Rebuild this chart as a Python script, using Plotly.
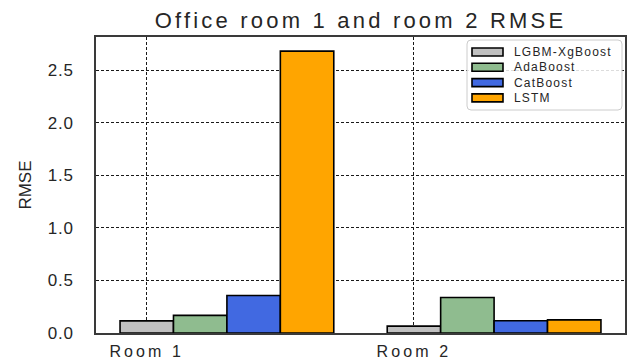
import plotly.graph_objects as go

# RMSE per model for the two office rooms
rooms = ["Room 1", "Room 2"]
models = ["LGBM-XgBoost", "AdaBoost", "CatBoost", "LSTM"]
rmse_lgbm_xgb = [0.115, 0.065]
rmse_adaboost = [0.168, 0.338]
rmse_catboost = [0.356, 0.116]
rmse_lstm = [2.68, 0.125]
colors = ["#c0c0c0", "#8fbc8f", "#4169e1", "#ffa500"]

series = [rmse_lgbm_xgb, rmse_adaboost, rmse_catboost, rmse_lstm]
room_pos = list(range(len(rooms)))
bar_w = 0.2
text_col = "#262626"
font_family = "Liberation Sans, Arial, sans-serif"

fig = go.Figure()
for i, (name, vals, col) in enumerate(zip(models, series, colors)):
    fig.add_trace(go.Bar(
        x=[p + i * bar_w for p in room_pos],
        y=vals,
        width=bar_w,
        name=name,
        marker=dict(color=col, line=dict(color="black", width=1.6)),
        showlegend=False,
    ))

# plot-area edges in pixels, used to place the hand-drawn legend
L, R, T, B = 96, 625, 37, 333


def px_x(px):
    return (px - L) / (R - L)


def px_y(py):
    return (B - py) / (B - T)


shapes = []
annotations = []

# legend frame with rounded corners
bx0, bx1, by0, by1, rad = 467, 622, 40, 110, 4
path = (
    f"M {px_x(bx0 + rad)},{px_y(by0)} L {px_x(bx1 - rad)},{px_y(by0)} "
    f"Q {px_x(bx1)},{px_y(by0)} {px_x(bx1)},{px_y(by0 + rad)} "
    f"L {px_x(bx1)},{px_y(by1 - rad)} "
    f"Q {px_x(bx1)},{px_y(by1)} {px_x(bx1 - rad)},{px_y(by1)} "
    f"L {px_x(bx0 + rad)},{px_y(by1)} "
    f"Q {px_x(bx0)},{px_y(by1)} {px_x(bx0)},{px_y(by1 - rad)} "
    f"L {px_x(bx0)},{px_y(by0 + rad)} "
    f"Q {px_x(bx0)},{px_y(by0)} {px_x(bx0 + rad)},{px_y(by0)} Z"
)
shapes.append(dict(type="path", xref="paper", yref="paper", path=path,
                   fillcolor="rgba(255,255,255,0.85)",
                   line=dict(color="#cccccc", width=1), layer="above"))

row0, row_step = 52, 15.3
for i, (name, col) in enumerate(zip(models, colors)):
    cy = row0 + i * row_step
    shapes.append(dict(type="rect", xref="paper", yref="paper",
                       x0=px_x(472), x1=px_x(503),
                       y0=px_y(cy - 4), y1=px_y(cy + 4),
                       fillcolor=col, line=dict(color="black", width=1.6),
                       layer="above"))
    annotations.append(dict(xref="paper", yref="paper", x=px_x(512), y=px_y(cy),
                            xanchor="left", yanchor="middle", align="left",
                            text=name, showarrow=False,
                            font=dict(size=12, color=text_col, family=font_family)))

axis_common = dict(
    showline=True, mirror=True, linecolor="#3a3a3a", linewidth=1.5,
    showgrid=True, gridcolor="#1a1a1a", gridwidth=0.8, griddash="3px,2px",
    zeroline=False, ticks="", automargin=False,
)

fig.update_layout(
    width=631, height=362,
    margin=dict(l=L, r=631 - R, t=T, b=362 - B),
    paper_bgcolor="white", plot_bgcolor="white",
    font=dict(family=font_family, color=text_col),
    title=dict(text="Office room 1 and room 2 RMSE", x=0.5, xref="paper",
               xanchor="center", y=1 - 20 / 362, yanchor="middle",
               font=dict(size=22, color=text_col)),
    barmode="overlay",
    xaxis=dict(range=[-0.19, 1.79], tickmode="array", tickvals=room_pos,
               ticktext=rooms, tickfont=dict(size=16, color=text_col),
               ticklabelstandoff=3, **axis_common),
    yaxis=dict(range=[0, 2.814], tickmode="array",
               tickvals=[0, 0.5, 1.0, 1.5, 2.0, 2.5], tickformat=".1f",
               tickfont=dict(size=17, color=text_col), ticklabelstandoff=17,
               title=dict(text="RMSE", font=dict(size=17, color=text_col), standoff=14),
               **axis_common),
    shapes=shapes,
    annotations=annotations,
)

# widen the glyph spacing of the title and tick labels
spacing_js = """
var gd = document.getElementById('{plot_id}');
function spread(sel, v) {
  gd.querySelectorAll(sel).forEach(function (t) { t.style.letterSpacing = v + 'px'; });
}
spread('.gtitle', 3.2);
spread('.xtick text', 3.1);
spread('.ytick text', 0.8);
spread('.annotation-text', 1.2);
"""

fig.write_html("out.html", post_script=spacing_js)
